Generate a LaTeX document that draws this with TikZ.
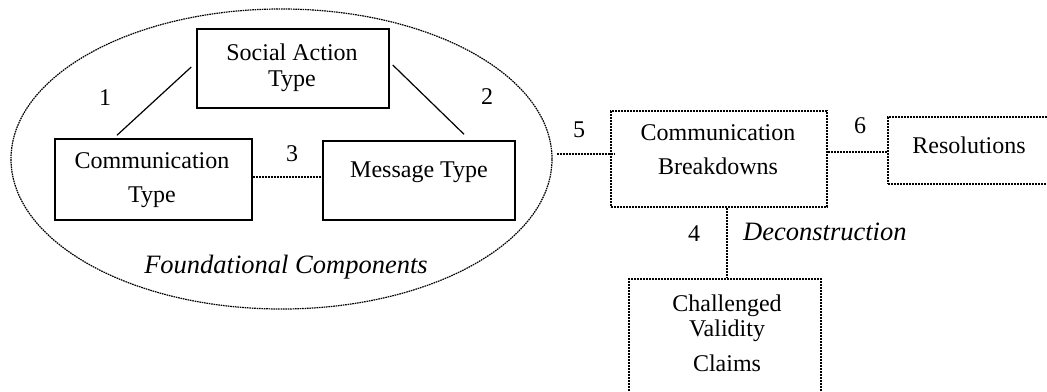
\documentclass[tikz,border=0pt]{standalone}
\usepackage{fontspec}
\setmainfont{Liberation Serif}
\usetikzlibrary{shapes.geometric,calc}
\begin{document}
\begin{tikzpicture}[x=1pt,y=-1pt,
  solidbox/.style={draw=black,line width=1.5pt,rectangle,inner sep=0pt},
  dotbox/.style={draw=black,line width=1.6pt,rectangle,inner sep=0pt,dash pattern=on 2pt off 1pt},
  dotline/.style={draw=black,line width=1.6pt,dash pattern=on 2pt off 1pt},
  solidline/.style={draw=black,line width=1.2pt},
  txt/.style={font=\fontsize{24}{28}\selectfont,inner sep=0pt,anchor=base},
  itxt/.style={font=\fontsize{26.5}{30}\selectfont\itshape,inner sep=0pt}
]
\useasboundingbox (0,0) rectangle (1047,391);
\clip (0,0) rectangle (1047,391);
\fill[white] (0,0) rectangle (1047,391);

% ellipse
\node[ellipse,draw=black,line width=1.2pt,dash pattern=on 1.6pt off 0.8pt,minimum width=541pt,minimum height=300pt,inner sep=0pt] (ell) at (281.5,159) {};

% boxes
\node[solidbox,minimum width=192pt,minimum height=79pt] (sat) at (293,68.5) {};
\node[solidbox,minimum width=197pt,minimum height=81pt] (ct) at (153.5,179.5) {};
\node[solidbox,minimum width=192pt,minimum height=79pt] (mt) at (419,180.5) {};
\node[dotbox,minimum width=216pt,minimum height=96pt] (cb) at (719,159) {};
\node[dotbox,minimum width=172pt,minimum height=67pt] (res) at (974,150.5) {};
\node[dotbox,minimum width=192pt,minimum height=121pt] (cvc) at (725,339.5) {};

% box texts
\node[txt] (sat1) at (292,60) {Social Action};
\node[txt] (sat2) at (292,86) {Type};
\node[txt] (ct1) at (152,168.5) {Communication};
\node[txt] (ct2) at (152,202.5) {Type};
\node[txt] (mt1) at (419,177) {Message Type};
\node[txt] (cb1) at (718,140) {Communication};
\node[txt] (cb2) at (718,174) {Breakdowns};
\node[txt] (res1) at (969,153) {Resolutions};
\node[txt] (cvc1) at (727,311) {Challenged};
\node[txt] (cvc2) at (727,336) {Validity};
\node[txt] (cvc3) at (727,371) {Claims};

% connectors
\draw[solidline] ($(sat.west)+(-5,-1.5)$) -- ($(ct.north)+(-36.5,-3)$);
\draw[solidline] ($(sat.east)+(3,-3.5)$) -- ($(mt.north)+(45,-6)$);
\draw[dotline] ($(ct.east)+(0,-2.5)$) -- ($(mt.west)+(0,-3.5)$);
\draw[dotline] ($(ell.east)+(4,-5)$) -- ($(cb.west)+(5,-5)$);
\draw[dotline] ($(cb.east)+(0,-7)$) -- ($(res.west)+(0,1.5)$);
\draw[dotline] ($(cb.south)+(8,0)$) -- ($(cvc.north)+(2,0)$);

% labels
\node[txt] (l1) at (105,105) {1};
\node[txt] (l2) at (487,104) {2};
\node[txt] (l3) at (292,161) {3};
\node[txt] (l5) at (579,137) {5};
\node[txt] (l6) at (860,133) {6};
\node[txt] (l4) at (694,241) {4};
\node[itxt,anchor=base west] (dec) at (743,240) {Deconstruction};
\node[itxt,anchor=base] (fc) at (286,273) {Foundational Components};
\end{tikzpicture}
\end{document}
